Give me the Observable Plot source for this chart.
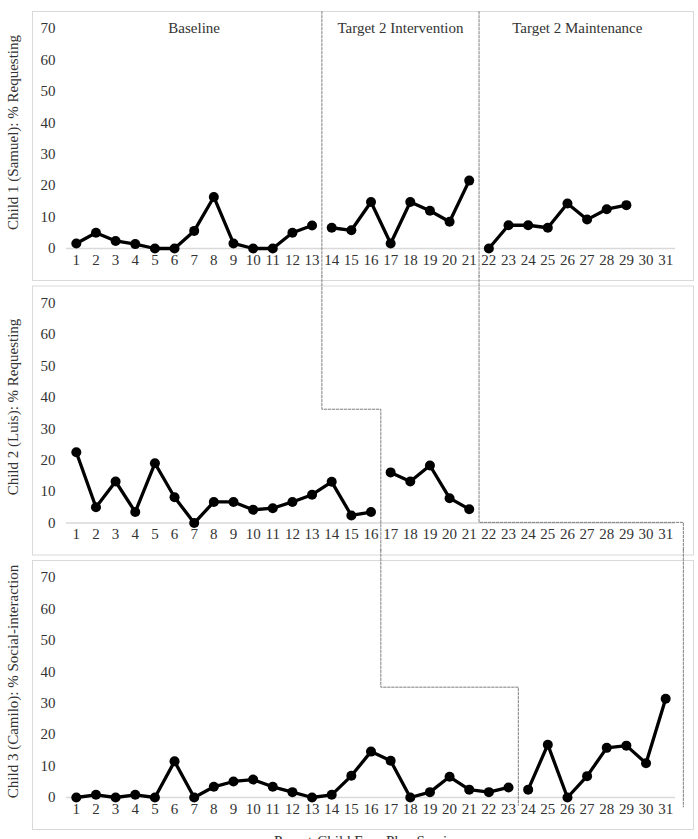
<!DOCTYPE html>
<html><head><meta charset="utf-8">
<script src="https://cdn.jsdelivr.net/npm/d3@7"></script>
<script src="https://cdn.jsdelivr.net/npm/@observablehq/plot@0.6"></script>
<style>
body{margin:0;background:#fff}
#chart svg{display:block}
</style>
</head><body><div id="chart"></div>
<script>
const sessions = [1,2,3,4,5,6,7,8,9,10,11,12,13,14,15,16,17,18,19,20,21,22,23,24,25,26,27,28,29,30,31];
const yTicks = [0,10,20,30,40,50,60,70];
const panels = ["Samuel","Luis","Camilo"];
const panelLabels = ["Child 1 (Samuel): % Requesting","Child 2 (Luis): % Requesting","Child 3 (Camilo): % Social-interaction"];
const samuel = [1.6,5.0,2.4,1.4,0,0,5.6,16.4,1.6,0,0,5.0,7.3,6.6,5.8,14.8,1.6,14.8,12.0,8.5,21.6,0,7.4,7.4,6.6,14.3,9.2,12.5,13.8,null,null];
const luis = [22.5,5.0,13.2,3.5,19.0,8.2,0,6.7,6.7,4.2,4.7,6.7,9.0,13.1,2.4,3.5,16.1,13.2,18.3,7.9,4.4,null,null,null,null,null,null,null,null,null,null];
const camilo = [0,0.85,0,0.85,0,11.5,0,3.4,5.1,5.7,3.4,1.7,0,0.85,6.9,14.6,11.7,0,1.7,6.6,2.5,1.7,3.2,2.5,16.8,0,6.8,15.8,16.5,10.9,31.4];
const phaseStarts = [[14,22],[17,22],[24,32]];
const phaseNames = ["Baseline","Target 2 Intervention","Target 2 Maintenance"];
const phaseNameX = [7, 17.5, 26.5];
// phase-change (dashed) lines, in data units per panel
const changeLines = [
  {line:"A", panel:"Samuel", xs:[13.5,13.5], ys:[75.4,-8.75]},
  {line:"A", panel:"Luis",   xs:[13.5,13.5,16.5,16.5], ys:[78.75,36.2,36.2,-8.75]},
  {line:"A", panel:"Camilo", xs:[16.5,16.5,23.5,23.5], ys:[78.75,35.1,35.1,-2.5]},
  {line:"B", panel:"Samuel", xs:[21.5,21.5], ys:[75.4,-8.75]},
  {line:"B", panel:"Luis",   xs:[21.5,21.5,31.9,31.9], ys:[78.75,0.2,0.2,-8.75]},
  {line:"B", panel:"Camilo", xs:[31.9,31.9], ys:[78.75,-3]}
];

const series = [samuel, luis, camilo];
const rows = [];
panels.forEach((p, pi) => {
  series[pi].forEach((v, i) => {
    if (v == null) return;
    const s = sessions[i];
    const phase = phaseStarts[pi].filter(t => s >= t).length;
    rows.push({panel: p, session: s, value: v, phase});
  });
});
const changePts = changeLines.flatMap(c => c.xs.map((x, i) => ({x, y: c.ys[i], panel: c.panel, z: c.line + c.panel})));
const tickRows = panels.flatMap(p => sessions.map(s => ({panel: p, s})));

const chart = Plot.plot({
  width: 698,
  height: 839,
  marginLeft: 66,
  marginRight: 23,
  marginTop: 28,
  marginBottom: 42,
  style: {fontFamily: "'Liberation Serif', 'Times New Roman', serif", fontSize: "15px", color: "#333", background: "#fff", overflow: "hidden"},
  x: {domain: [0.5, 31.5], axis: null},
  y: {domain: [0, 70], axis: null},
  fy: {domain: panels, axis: null, paddingInner: 0.19854, paddingOuter: 0, round: false},
  marks: [
    Plot.frame({stroke: "#d9d9d9", strokeWidth: 1, insetLeft: -34, insetRight: -18, insetTop: -17, insetBottom: -32}),
    Plot.ruleY([0], {stroke: "#d9d9d9", strokeWidth: 1.5}),
    Plot.axisY(yTicks, {tickSize: 0, tickPadding: 11, label: null, fontSize: 15}),
    Plot.text(tickRows, {x: "s", fy: "panel", text: d => String(d.s), frameAnchor: "bottom", dy: 16, fontSize: 15}),
    Plot.text(panels, {fy: d => d, text: (d, i) => panelLabels[i], frameAnchor: "left", textAnchor: "middle", rotate: -90, dx: -53, dy: -6, fontSize: 15}),
    Plot.text(phaseNames, {x: (d, i) => phaseNameX[i], y: () => 70, fy: () => "Samuel", text: d => d, fontSize: 15}),
    Plot.text(["Parent-Child Free-Play Sessions"], {fy: () => "Camilo", text: d => d, frameAnchor: "bottom", lineAnchor: "bottom", dy: 48, fontSize: 15}),
    Plot.line(changePts, {x: "x", y: "y", fy: "panel", z: "z", stroke: "#7f7f7f", strokeWidth: 1, strokeDasharray: "2.5,1.5"}),
    Plot.line(rows, {x: "session", y: "value", fy: "panel", z: "phase", stroke: "#000", strokeWidth: 3.3}),
    Plot.dot(rows, {x: "session", y: "value", fy: "panel", r: 5, fill: "#000"})
  ]
});
document.getElementById("chart").appendChild(chart);
</script>
</body></html>
